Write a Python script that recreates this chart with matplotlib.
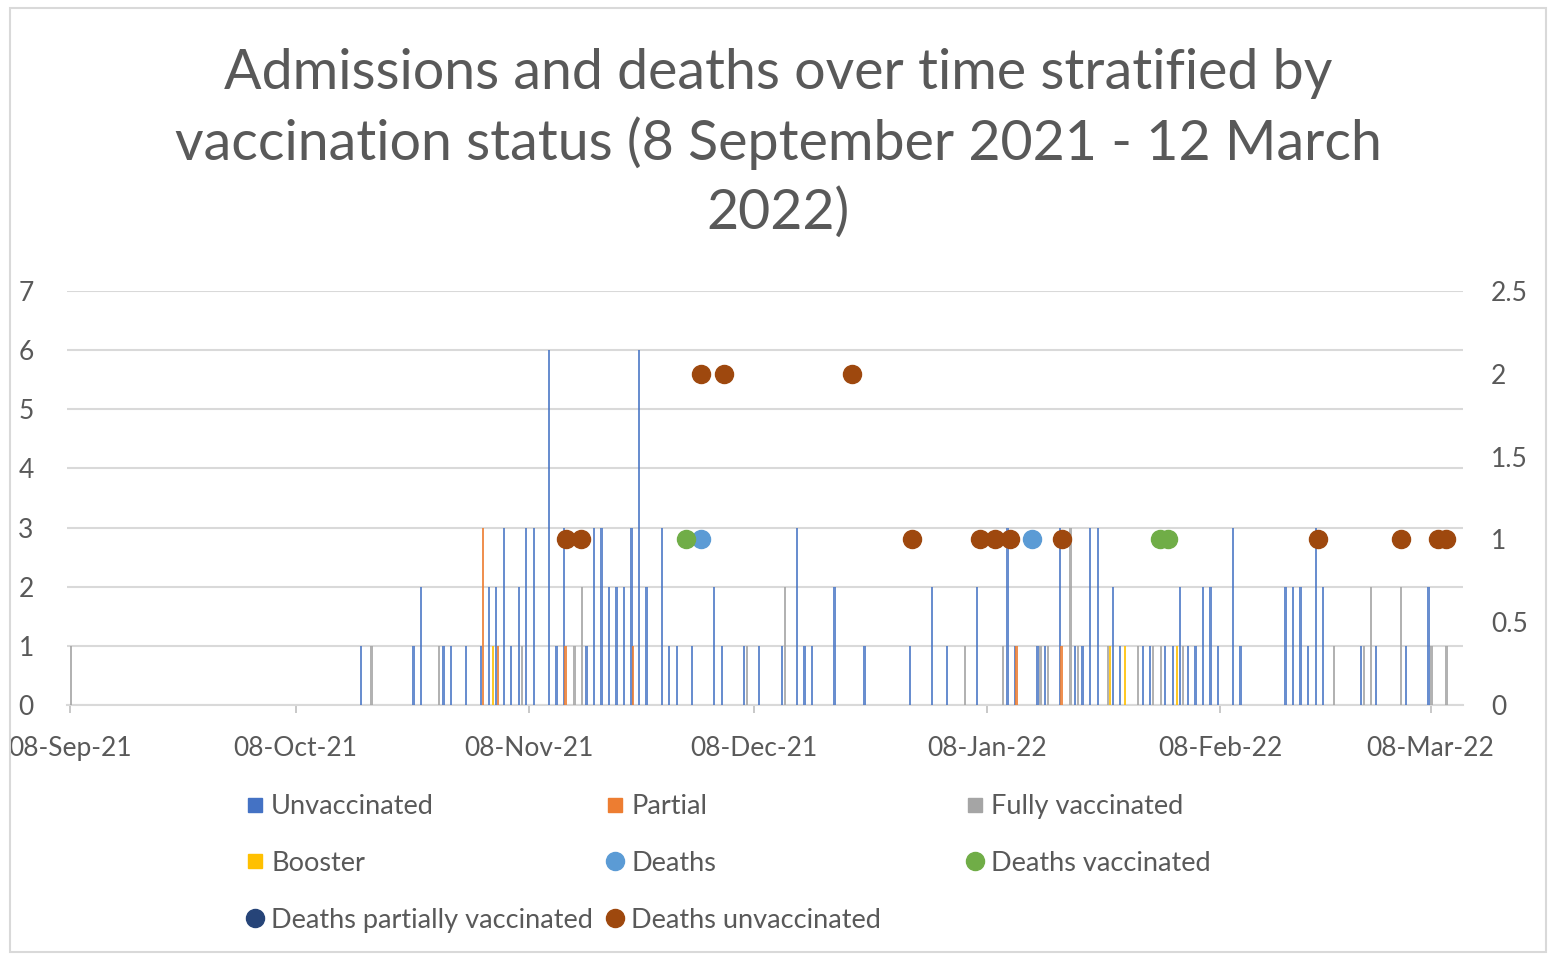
import matplotlib
matplotlib.use("Agg")
import matplotlib.pyplot as plt
from matplotlib.lines import Line2D
from matplotlib.patches import Rectangle

plt.rcParams['font.family'] = ['Lato', 'DejaVu Sans']

# day offsets counted from 8 Sep 2021 (day 0) to 12 Mar 2022 (day 185)
tick_days = [0, 30, 61, 91, 122, 153, 181]
tick_labels = ['08-Sep-21', '08-Oct-21', '08-Nov-21', '08-Dec-21',
               '08-Jan-22', '08-Feb-22', '08-Mar-22']

# admissions (left axis)
unvacc_days = [39, 46, 47, 50, 51, 53, 55, 56, 57, 58, 59, 60, 61, 62, 64, 65,
               66, 69, 70, 71, 72, 73, 74, 75, 76, 77, 79, 80, 81, 83, 86, 87,
               90, 92, 95, 97, 98, 99, 102, 106, 112, 115, 117, 121, 125, 126,
               129, 130, 132, 134, 135, 136, 137, 139, 140, 143, 144, 146, 147,
               148, 149, 150, 151, 152, 153, 155, 156, 162, 163, 164, 165, 166,
               167, 172, 174, 178, 181]
unvacc_vals = [1, 1, 2, 1, 1, 1, 1, 2, 2, 3, 1, 2, 3, 3, 6, 1,
               3, 1, 3, 3, 2, 2, 2, 3, 6, 2, 3, 1, 1, 1, 2, 1,
               1, 1, 1, 3, 1, 1, 2, 1, 1, 2, 1, 2, 3, 1,
               1, 1, 3, 1, 1, 3, 3, 2, 1, 1, 1, 1, 1,
               2, 1, 1, 2, 2, 1, 3, 1, 2, 2, 2, 1, 3,
               2, 1, 1, 1, 2]

partial_days = [55, 57, 66, 75, 126, 132]
partial_vals = [3, 1, 1, 1, 1, 1]

fully_days = [0, 40, 49, 60, 67, 68, 90, 95, 119, 124, 129, 130, 133, 134, 138,
              142, 144, 145, 148, 168, 172, 173, 177, 181, 183]
fully_vals = [1, 1, 1, 1, 1, 2, 1, 2, 1, 1, 1, 1, 3, 1, 1,
              1, 1, 1, 1, 1, 1, 2, 2, 1, 1]

booster_days = [56, 138, 140, 147]
booster_vals = [1, 1, 1, 1]

# deaths (right axis)
deaths_days = [84, 128]
deaths_vals = [1, 1]
deaths_vacc_days = [82, 145, 146]
deaths_vacc_vals = [1, 1, 1]
deaths_partial_days = []
deaths_partial_vals = []
deaths_unvacc_days = [66, 68, 84, 87, 104, 112, 121, 123, 125, 132, 166, 177, 182, 183]
deaths_unvacc_vals = [1, 1, 2, 2, 2, 1, 1, 1, 1, 1, 1, 1, 1, 1]

c_unvacc = '#4472C4'
c_partial = '#ED7D31'
c_fully = '#A5A5A5'
c_booster = '#FFC000'
c_deaths = '#5B9BD5'
c_dvacc = '#70AD47'
c_dpart = '#264478'
c_dunvacc = '#9E480E'
txt = '#595959'
grid = '#D9D9D9'

fig = plt.figure(figsize=(15.56, 9.61), dpi=100)
fig.patches.append(Rectangle((10 / 1556, 9 / 961), 1536 / 1556, 944 / 961,
                             transform=fig.transFigure, fill=False,
                             edgecolor=grid, lw=1.5))

ax = fig.add_axes([67 / 1556, 1 - 705 / 961, 1396 / 1556, 414 / 961])

w = 0.3
ax.bar([d - 0.3 for d in unvacc_days], unvacc_vals, width=w, color=c_unvacc, alpha=0.8, zorder=3)
ax.bar([d - 0.1 for d in partial_days], partial_vals, width=w, color=c_partial, alpha=0.85, zorder=3)
ax.bar([d + 0.1 for d in fully_days], fully_vals, width=w, color=c_fully, alpha=0.85, zorder=3)
ax.bar([d + 0.3 for d in booster_days], booster_vals, width=w, color=c_booster, alpha=0.85, zorder=3)

ax.set_xlim(-0.4, 185.3)
ax.set_ylim(0, 7)
ax.set_yticks(range(8))
ax.set_xticks(tick_days)
ax.set_xticklabels(tick_labels)
ax.grid(axis='y', color=grid, lw=1.5, zorder=0)
for s in ['top', 'right', 'left']:
    ax.spines[s].set_visible(False)
ax.spines['bottom'].set_color(grid)
ax.spines['bottom'].set_linewidth(1.5)
ax.tick_params(axis='y', length=0, labelsize=19, labelcolor=txt, pad=24)
ax.tick_params(axis='x', length=6, color='#BFBFBF', width=1.2,
               labelsize=19, labelcolor=txt, pad=16)

ax2 = ax.twinx()
ax2.plot(deaths_days, deaths_vals, 'o', color=c_deaths, ms=13, zorder=4)
ax2.plot(deaths_vacc_days, deaths_vacc_vals, 'o', color=c_dvacc, ms=13, zorder=4)
ax2.plot(deaths_partial_days, deaths_partial_vals, 'o', color=c_dpart, ms=13, zorder=4)
ax2.plot(deaths_unvacc_days, deaths_unvacc_vals, 'o', color=c_dunvacc, ms=13, zorder=5)
ax2.set_ylim(0, 2.5)
ax2.set_yticks([0, 0.5, 1, 1.5, 2, 2.5])
ax2.set_yticklabels(['0', '0.5', '1', '1.5', '2', '2.5'])
for s in ['top', 'right', 'left', 'bottom']:
    ax2.spines[s].set_visible(False)
ax2.tick_params(axis='y', length=0, labelsize=19, labelcolor=txt, pad=20)

fig.text(778 / 1556, 1 - 143 / 961,
         'Admissions and deaths over time stratified by\n'
         'vaccination status (8 September 2021 - 12 March\n2022)',
         ha='center', va='center', fontsize=40, color=txt, linespacing=1.4)

sq = dict(marker='s', ls='', markersize=10)
ci = dict(marker='o', ls='', markersize=13)
cols = [
    ([Line2D([], [], color=c_unvacc, **sq), Line2D([], [], color=c_booster, **sq),
      Line2D([], [], color=c_dpart, **ci)],
     ['Unvaccinated', 'Booster', 'Deaths partially vaccinated'], 244),
    ([Line2D([], [], color=c_partial, **sq), Line2D([], [], color=c_deaths, **ci),
      Line2D([], [], color=c_dunvacc, **ci)],
     ['Partial', 'Deaths', 'Deaths unvaccinated'], 604),
    ([Line2D([], [], color=c_fully, **sq), Line2D([], [], color=c_dvacc, **ci)],
     ['Fully vaccinated', 'Deaths vaccinated'], 964),
]
for handles, labels, xpx in cols:
    leg = fig.legend(handles, labels, loc='upper left',
                     bbox_to_anchor=(xpx / 1556, 1 - 794 / 961),
                     frameon=False, fontsize=19.5, labelcolor=txt,
                     handlelength=0.8, handletextpad=0.2, labelspacing=1.18,
                     borderpad=0, borderaxespad=0)

fig.savefig('out.png', dpi=100)
